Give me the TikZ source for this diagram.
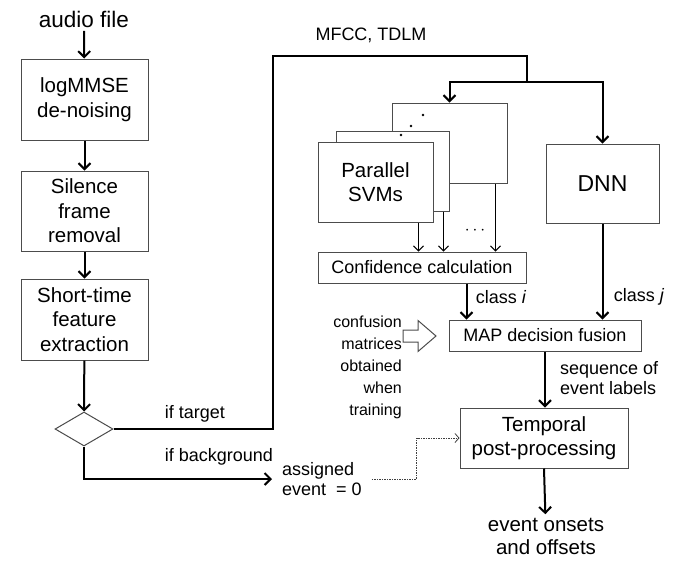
\documentclass[tikz,border=0pt]{standalone}
\usepackage{fontspec}
\setmainfont{Liberation Sans}
\usetikzlibrary{arrows.meta,shapes.geometric}

\tikzset{
  box/.style={draw=black!70, line width=1pt, fill=white, align=center, inner sep=0pt},
  bigfont/.style={font=\fontsize{20.5}{24.5}\selectfont},
  midfont/.style={font=\fontsize{18}{20}\selectfont},
  smallfont/.style={font=\fontsize{16}{22}\selectfont},
  flow/.style={line width=2pt},
  arr/.style={flow, -{Straight Barb[length=6pt,width=12pt]}},
  thinarr/.style={line width=1pt, -{Straight Barb[length=5pt,width=10pt]}},
  dotarr/.style={line width=0.8pt, black!75, dash pattern=on 1.5pt off 1pt,
    -{Straight Barb[length=4pt,width=9pt]}},
}

\begin{document}
\begin{tikzpicture}[x=1pt,y=-1pt]
  \useasboundingbox (0,0) rectangle (678,566);

  % left chain
  \node[font=\fontsize{22.5}{26}\selectfont] (audio) at (84,19) {audio file};
  \node[box,bigfont,minimum width=127,minimum height=81] (denoise) at (84.5,99.5) {logMMSE\\de-noising};
  \node[box,bigfont,minimum width=127,minimum height=80] (silence) at (84.5,211) {Silence\\frame\\removal};
  \node[box,bigfont,minimum width=127,minimum height=81] (feat) at (84.5,319.5) {Short-time\\feature\\extraction};
  \node[diamond,draw=black!70,line width=1pt,inner sep=0pt,minimum width=58,minimum height=34] (dia) at (84,429) {};

  % svm stack and dnn
  \node[box,minimum width=115,minimum height=80] (svmc) at (449.5,143) {};
  \node[box,minimum width=113,minimum height=80] (svmb) at (392.5,171) {};
  \node[box,bigfont,minimum width=115,minimum height=80] (svma) at (375.5,182) {Parallel\\SVMs};
  \node[box,font=\fontsize{23}{26}\selectfont,minimum width=113,minimum height=79] (dnn) at (602.5,183.5) {DNN};
  \node[box,midfont,minimum width=208,minimum height=31] (conf) at (422,267.5) {Confidence calculation};
  \node[midfont] (more) at (475,231) {$\cdots$};

  % fusion and output
  \node[box,midfont,minimum width=192,minimum height=31] (map) at (545,335.5) {MAP decision fusion};
  \node[box,bigfont,minimum width=168,minimum height=60] (temp) at (544,438) {Temporal\\post-processing};
  \node[align=center,font=\fontsize{20.5}{23}\selectfont] (out) at (546,536) {event onsets\\and offsets};
  \node[smallfont,anchor=east,align=right,inner sep=0pt] (cm) at (402,367) {confusion\\matrices\\obtained\\when\\training};
  \node[midfont,anchor=west,align=left,inner xsep=10pt,inner ysep=0pt] (assigned) at (272,479) {assigned\\event~ = 0};

  % labels
  \node[midfont] (feats) at (371,35) {MFCC, TDLM};
  \node[midfont] (tgt) at (195,414) {if target};
  \node[midfont] (bg) at (219,457) {if background};
  \node[midfont] (ci) at (501,297) {class \textit{i}};
  \node[midfont] (cj) at (639,297) {class \textit{j}};
  \node[midfont,anchor=west,align=left,inner sep=0pt] (seq) at (560,378) {sequence of\\event labels};

  \coordinate (up) at (273,56);
  \coordinate (fork) at (527,82);

  \draw[arr] (audio) -- (denoise);
  \draw[arr] (denoise) -- (silence);
  \draw[arr] (silence) -- (feat);
  \draw[arr] (feat) -- (dia);
  \draw[flow] (dia.east) -| (up) -| (fork);
  \draw[arr] (fork) -| (svmc.north);
  \draw[arr] (fork) -| (dnn.north);
  \draw[arr] (dia.south) |- (assigned.west);

  \draw[thinarr] ([xshift=-15]svma.south east) -- ([xshift=-15]svma.south east |- conf.north);
  \draw[thinarr] ([xshift=-6]svmb.south east) -- ([xshift=-6]svmb.south east |- conf.north);
  \draw[thinarr] ([xshift=-12]svmc.south east) -- ([xshift=-12]svmc.south east |- conf.north);

  \draw[arr] ([xshift=18]map.north west |- conf.south) -- ([xshift=18]map.north west);
  \draw[arr] (dnn.south) -- (dnn.south |- map.north);
  \draw[arr] (map.south) -- (map.south |- temp.north);
  \draw[arr] (temp.south) -- (out);
  \draw[dotarr] (assigned.east) -| ([xshift=-43]temp.west) -- (temp.west);

  % hollow arrow
  \draw[black!70,line width=1pt,fill=white] (403,330) -- (418,330) -- (418,320.5) -- (436,336)
    -- (418,351.5) -- (418,342) -- (403,342) -- cycle;

  % stacking dots
  \foreach \dx/\dy in {423/115, 411/126, 401/135}
    \fill (\dx,\dy) circle (1.3);
\end{tikzpicture}
\end{document}
